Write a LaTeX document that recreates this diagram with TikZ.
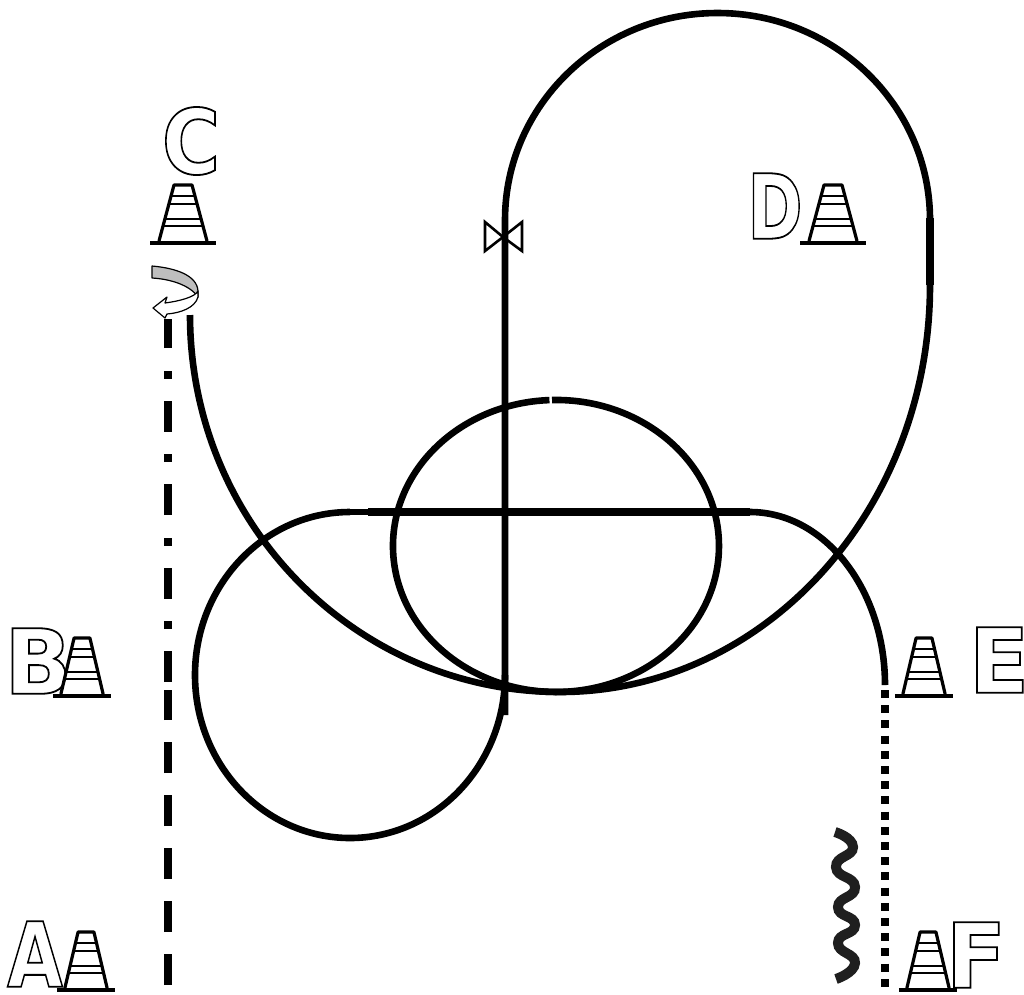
\documentclass[tikz,border=0pt]{standalone}
\usepackage{fontspec}
\usepackage{tikz}
\setmainfont{DejaVu Sans}
\definecolor{arrowgrey}{HTML}{BEBEBE}
\newcommand{\outlined}[1]{\special{pdf:code q 1 Tr 1.8 w}#1\special{pdf:code Q}}

\begin{document}
\begin{tikzpicture}[x=1pt,y=-1pt,
 track/.style={line width=6.6pt},
 thicktrack/.style={line width=7.6pt},
 startline/.style={line width=8pt},
 letter/.style={font=\fontsize{90}{90}\selectfont\bfseries,inner sep=0pt,transform shape},
 cone/.pic={
  \draw[line width=3.2pt,line join=round] (-24,-2) -- (-9,-58) -- (9,-58) -- (24,-2);
  \draw[line width=2.6pt] (-13,-47) -- (13,-47) (-15,-39) -- (15,-39) (-19,-24) -- (19,-24) (-21,-17) -- (21,-17);
  \draw[line width=4pt] (-33,0) -- (33,0);
 }]
\useasboundingbox (0,0) rectangle (1024,994);
% cones
\pic (coneC) at (183,243) {cone};
\pic (coneD) at (833,243) {cone};
\pic[xscale=0.88] (coneB) at (82,696) {cone};
\pic[xscale=0.88] (coneE) at (924,696) {cone};
\pic[xscale=0.88] (coneA) at (86,990) {cone};
\pic[xscale=0.88] (coneF) at (928,990) {cone};
% letters
\node[letter,xscale=0.88] (letterC) at (191,141) {\outlined{C}};
\node[letter,xscale=0.74] (letterD) at (775,206) {\outlined{D}};
\node[letter,xscale=0.98] (letterB) at (38,661) {\outlined{B}};
\node[letter,xscale=0.98] (letterE) at (999,660) {\outlined{E}};
\node[letter,xscale=0.80] (letterA) at (35,954) {\outlined{A}};
\node[letter,xscale=0.98] (letterF) at (976,955) {\outlined{F}};
% main track
\draw[track] (190,315) arc[start angle=180,end angle=90,x radius=370,y radius=377]
 arc[start angle=90,end angle=0,x radius=370,y radius=407];
\draw[thicktrack] (930,285) -- (930,218);
\draw[track] (930,220) arc[start angle=0,end angle=-180,x radius=212.5,y radius=207] -- (505,715);
\draw[track] (505,675) arc[start angle=0,end angle=270,x radius=155,y radius=163];
\draw[thicktrack] (368,512) -- (750,512);
\draw[track] (350,512) -- (368,512);
\draw[track] (750,512) arc[start angle=-90,end angle=0,x radius=135,y radius=173];
\draw[track] (552,400) arc[start angle=-91.4,end angle=267.7,x radius=163,y radius=146];
% start lines
\draw[startline,dash pattern=on 31pt off 22pt] (168,985) -- (168,690);
\draw[startline,dash pattern=on 31pt off 22pt on 8pt off 22.5pt] (168,682) -- (168,319);
\draw[startline,dash pattern=on 8pt off 7.2pt] (885,690) -- (885,988);
\draw[line width=10pt,color=black!88] plot[smooth,tension=1] coordinates {(835,832) (853,847) (836,867) (855,887) (838,907) (855,925) (838,943) (855,963) (836,979)};
% gate
\draw[line width=2.6pt,line join=miter] (503,237) -- (485,222) -- (485,251) -- cycle;
\draw[line width=2.6pt,line join=miter] (503,237) -- (522,222) -- (522,251) -- cycle;
% turn arrow
\draw[line width=1.2pt,line join=round,fill=arrowgrey] (152,266) .. controls (175,268) and (197,275) .. (198,291) -- (198,297) .. controls (190,285) and (170,279) .. (152,278) -- cycle;
\draw[line width=1.2pt,line join=round,fill=white] (153,308) -- (167,297) -- (165,303) .. controls (180,301) and (195,297) .. (198,291) -- (198,297) .. controls (195,308) and (180,313) .. (167,314) -- (165,318) -- cycle;
\end{tikzpicture}
\end{document}
